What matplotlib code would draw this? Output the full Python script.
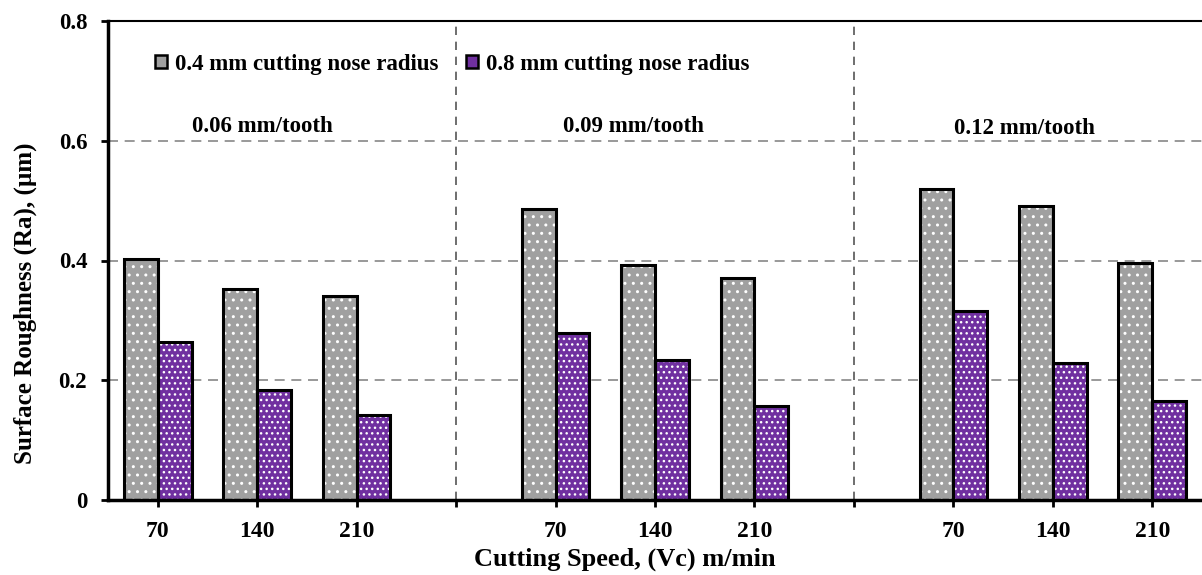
import matplotlib
matplotlib.use("Agg")
import matplotlib.pyplot as plt
from matplotlib.patches import Patch
import numpy as np

plt.rcParams['font.family'] = ['Liberation Serif', 'DejaVu Serif']
plt.rcParams['font.weight'] = 'bold'

# Data
tick_labels = ["70", "140", "210", "", "70", "140", "210", "", "70", "140", "210"]
feed_labels = ["0.06 mm/tooth", "0.09 mm/tooth", "0.12 mm/tooth"]
series_names = ["0.4 mm cutting nose radius", "0.8 mm cutting nose radius"]
ra_r04 = [0.403, 0.352, 0.341, 0.486, 0.393, 0.371, 0.519, 0.491, 0.396]
ra_r08 = [0.264, 0.184, 0.142, 0.279, 0.234, 0.157, 0.316, 0.228, 0.166]
yticks = [0, 0.2, 0.4, 0.6, 0.8]
ytick_labels = ["0", "0.2", "0.4", "0.6", "0.8"]

gray = "#A0A0A0"
purple = "#7030A0"

fig = plt.figure(figsize=(12.02, 5.75), dpi=100)
ax = fig.add_axes([108/1202, 75/575, 1 - 108/1202, 479/575])

# positions: 3 groups of 3, skipping a slot between groups
pos = [0, 1, 2, 4, 5, 6, 8, 9, 10]
w = 0.34
xl = np.array(pos) - w/2
xr = np.array(pos) + w/2

def draw_bars(x, vals, color, hatch):
    ax.bar(x, vals, width=w, color=color, edgecolor="white", hatch=hatch, linewidth=0, zorder=2)
    ax.bar(x, vals, width=w, fill=False, edgecolor="black", linewidth=2.2, zorder=3)

draw_bars(xl, ra_r04, gray, "..")
draw_bars(xr, ra_r08, purple, "...")

ax.set_xlim(-0.5, 10.5)
ax.set_ylim(0, 0.8)
ax.set_xticks(range(len(tick_labels)))
ax.set_xticklabels(tick_labels, fontsize=17, fontweight='bold')
ax.set_yticks(yticks)
ax.set_yticklabels(ytick_labels, fontsize=16.5, fontweight='bold')
ax.tick_params(axis='both', direction='out', length=5, width=2, color='black')
ax.tick_params(axis='x', pad=10)
ax.tick_params(axis='y', pad=10)

for y in [0.2, 0.4, 0.6]:
    ax.axhline(y, color="#888888", linestyle=(0, (6, 4)), linewidth=1.2, zorder=1)
for xv in [3, 7]:
    ax.axvline(xv, color="#555555", linestyle=(0, (5, 4)), linewidth=1.2, zorder=1)

ax.spines['left'].set_linewidth(2.5)
ax.spines['bottom'].set_linewidth(2.5)
ax.spines['top'].set_linewidth(1.5)
ax.spines['right'].set_visible(False)

ax.set_ylabel("Surface Roughness (Ra), (\u00b5m)", fontsize=18, fontweight='bold')
ax.yaxis.set_label_coords(-0.065, 0.41)
ax.set_xlabel("Cutting Speed, (Vc) m/min", fontsize=19, fontweight='bold', labelpad=4)
ax.xaxis.label.set_x(0.472)

feed_x = [1.05, 4.78, 8.71]
feed_y = [0.623, 0.623, 0.620]
for fx, fy, t in zip(feed_x, feed_y, feed_labels):
    ax.text(fx, fy, t, ha='center', va='center', fontsize=16.5, fontweight='bold')

handles = [Patch(facecolor=gray, edgecolor='black', linewidth=1.8),
           Patch(facecolor=purple, edgecolor='black', linewidth=1.8)]
leg = ax.legend(handles, series_names, loc='center left', bbox_to_anchor=(0.0238, 0.91),
                ncol=2, frameon=False, handlelength=0.52, handleheight=0.52,
                handletextpad=0.35, columnspacing=1.24, prop={'size': 16.5, 'weight': 'bold'})

fig.savefig("out.png", dpi=100)
